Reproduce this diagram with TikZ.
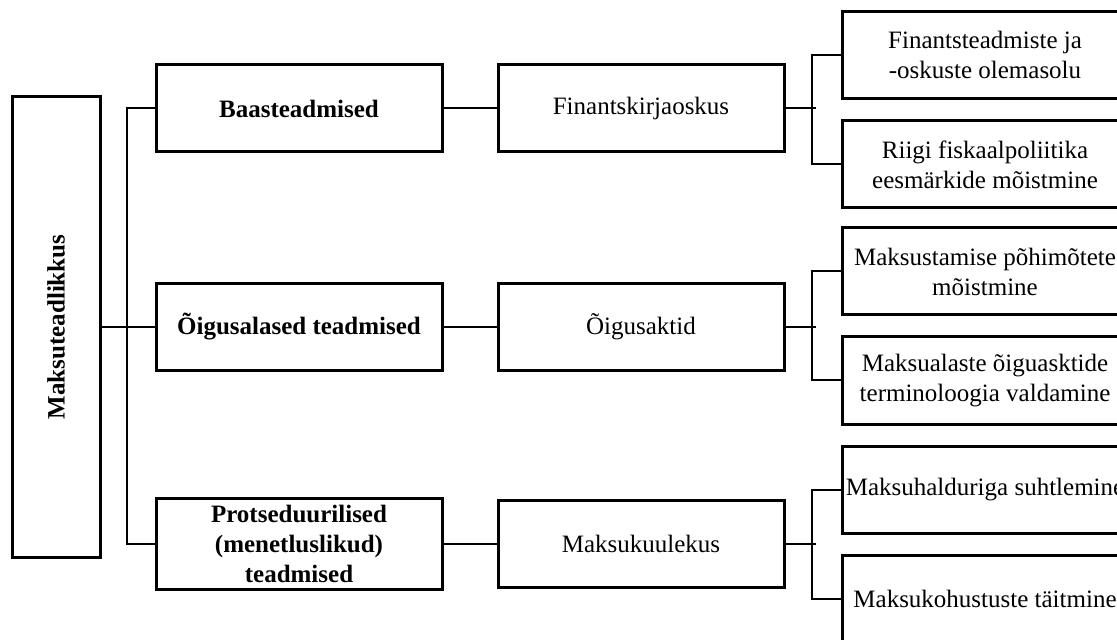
\documentclass[tikz,border=0pt]{standalone}
\usepackage{fontspec}
\usepackage{graphicx}
\setmainfont{Liberation Serif}
\tikzset{
  box/.style={draw, line width=1.5pt, minimum width=143pt, minimum height=43.5pt,
    align=center, inner xsep=1pt, font=\fontsize{12.5}{15}\selectfont},
  topbox/.style={box, font=\fontsize{12.5}{15}\selectfont\bfseries},
  link/.style={line width=1pt},
}
\begin{document}
\begin{tikzpicture}[x=0.5pt,y=-0.5pt]
\useasboundingbox (0,0) rectangle (1117,640);
\clip (0,0) rectangle (1117,640);

\node[topbox, minimum width=44pt, minimum height=230pt] (root) at (56,327) {\rotatebox{90}{Maksuteadlikkus}};

\node[topbox] (base) [right of=root,node distance=121.5pt,yshift=109.25pt] {Baasteadmised};
\node[topbox] (legal) [right of=root,node distance=121.5pt] {Õigusalased teadmised};
\node[topbox] (proc) [right of=root,node distance=121.5pt,yshift=-108.5pt] {Protseduurilised\\(menetluslikud)\\teadmised};

\node[box] (fin) [right of=base,node distance=171pt] {Finantskirjaoskus};
\node[box] (acts) [right of=legal,node distance=171pt] {Õigusaktid};
\node[box] (comp) [right of=proc,node distance=171pt] {Maksukuulekus};

\node[box] (fin1) [right of=fin,node distance=172pt,yshift=26.75pt] {Finantsteadmiste ja\\-oskuste olemasolu};
\node[box] (fin2) [right of=fin,node distance=172pt,yshift=-28pt] {Riigi fiskaalpoliitika\\eesmärkide mõistmine};
\node[box] (acts1) [right of=acts,node distance=172pt,yshift=27.75pt] {Maksustamise põhimõtete\\mõistmine};
\node[box] (acts2) [right of=acts,node distance=172pt,yshift=-26.75pt] {Maksualaste õiguasktide\\terminoloogia valdamine};
\node[box] (comp1) [right of=comp,node distance=172pt,yshift=27pt] {Maksuhalduriga suhtlemine};
\node[box] (comp2) [right of=comp,node distance=172pt,yshift=-27.5pt] {Maksukohustuste täitmine};

\draw[link] (root.east) -- (legal.west);
\draw[link] (base.west) -- ++(-28,0) |- (proc.west);

\draw[link] (base) -- (fin);
\draw[link] (legal) -- (acts);
\draw[link] (proc) -- (comp);

\draw[link] (fin.east) -- ++(30,0);
\draw[link] (fin1.west) -- ++(-29,0) |- (fin2.west);
\draw[link] (acts.east) -- ++(30,0);
\draw[link] (acts1.west) -- ++(-29,0) |- (acts2.west);
\draw[link] (comp.east) -- ++(30,0);
\draw[link] (comp1.west) -- ++(-29,0) |- (comp2.west);
\end{tikzpicture}
\end{document}
